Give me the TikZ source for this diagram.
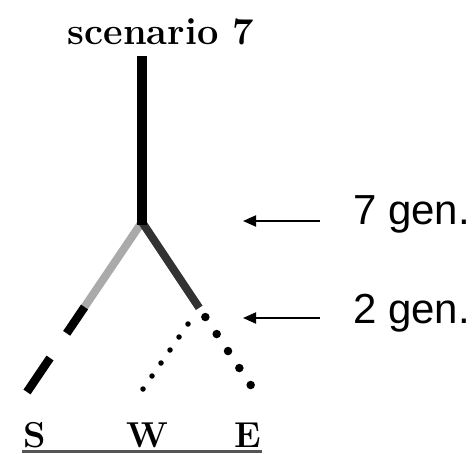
\documentclass[tikz,border=0pt]{standalone}
\usepackage{fontspec}
\newfontfamily\labelfont{Liberation Sans}
\usetikzlibrary{arrows.meta,calc}
\definecolor{branchgray}{HTML}{AAAAAA}
\definecolor{branchdark}{HTML}{333333}
\definecolor{basegray}{HTML}{555555}
\tikzset{
  trunkline/.style={line width=9.5pt,black},
  grayline/.style={line width=8pt,branchgray},
  darkline/.style={line width=8pt,branchdark},
  dashseg/.style={line width=8.5pt,black},
  bigdot/.style={circle,fill=black,inner sep=0pt,minimum size=8.5pt},
  smalldot/.style={circle,fill=black,inner sep=0pt,minimum size=5.5pt},
  leaflabel/.style={anchor=base,inner sep=0pt,font=\fontsize{36}{40}\selectfont\bfseries},
  genlabel/.style={anchor=base west,inner sep=0pt,font=\labelfont\fontsize{42}{48}\selectfont},
  genarrow/.style={line width=2pt,-{Triangle[length=13pt,width=11pt]}},
}
\begin{document}
\begin{tikzpicture}[x=1pt,y=-1pt]
\useasboundingbox (0,0) rectangle (473,454);
% title
\node[anchor=base,inner sep=0pt,font=\fontsize{38}{42}\selectfont\bfseries] (title) at (161,45) {scenario 7};
% key points
\coordinate (top) at (142,56);
\coordinate (split) at (142,222);
\coordinate (send) at (27,392);
\coordinate (eend) at (252,387);
\coordinate (wstart) at (188,324);
\coordinate (wend) at (143,389);
% S branch (gray then dashes)
\draw[grayline] (split) -- ($(split)!0.51!(send)$);
\draw[dashseg] ($(split)!0.50!(send)$) -- ($(split)!0.655!(send)$);
\draw[dashseg] ($(split)!0.80!(send)$) -- (send);
% E branch (dark then dots)
\draw[darkline] (split) -- ($(split)!0.52!(eend)$);
\foreach \k in {0,...,4}{
  \node[bigdot] (edot\k) at ($(split)!{0.576+0.103*\k}!(eend)$) {};
}
% W branch dotted
\foreach \k in {0,...,5}{
  \node[smalldot] (wdot\k) at ($(wstart)!{\k/5}!(wend)$) {};
}
% trunk
\draw[trunkline] (top) -- ($(split)+(0,3)$);
% leaf labels
\node[leaflabel] (S) at (35,447) {S};
\node[leaflabel] (W) at (147,447) {W};
\node[leaflabel] (E) at (248,447) {E};
% base line
\coordinate (bl) at (22,451);
\coordinate (br) at (262,451);
\draw[line width=3pt,basegray] (bl) -- (br);
% generation markers
\coordinate (a7s) at (320,221);
\coordinate (a7e) at (243,221);
\coordinate (a2s) at (320,318);
\coordinate (a2e) at (243,318);
\draw[genarrow] (a7s) -- (a7e);
\draw[genarrow] (a2s) -- (a2e);
\node[genlabel] (g7) at (353,225) {7 gen.};
\node[genlabel] (g2) at (353,323) {2 gen.};
\end{tikzpicture}
\end{document}
